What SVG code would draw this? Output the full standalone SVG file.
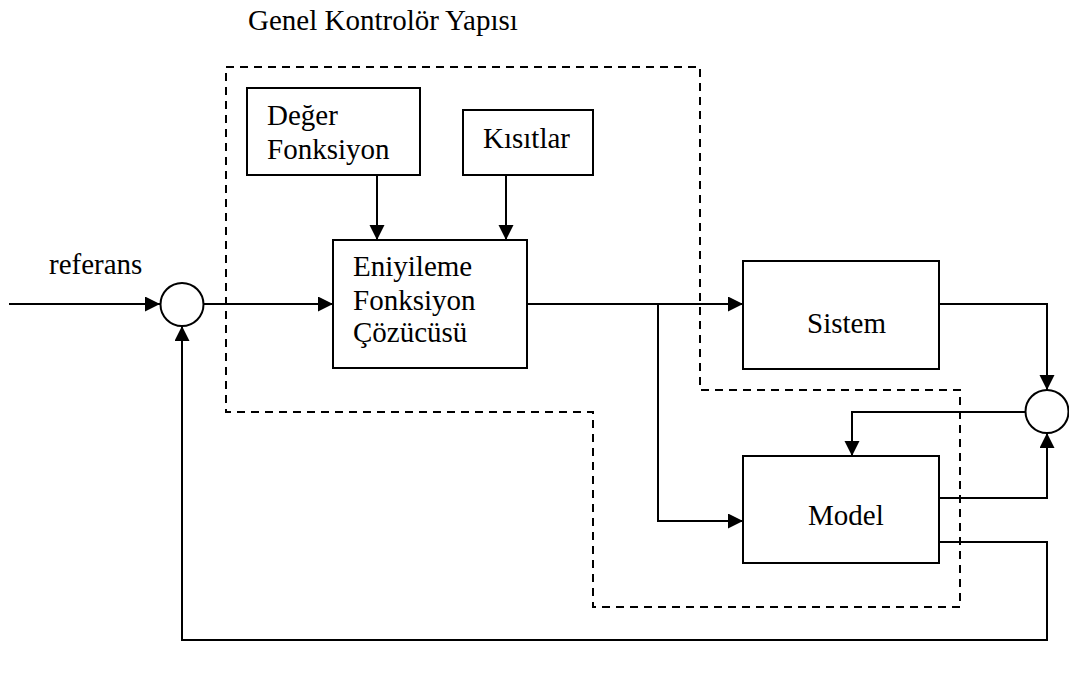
<svg xmlns="http://www.w3.org/2000/svg" width="1069" height="675" viewBox="0 0 1069 675">
  <style>
    .box { fill: #fff; stroke: #000; stroke-width: 2; }
    .sum { fill: #fff; stroke: #000; stroke-width: 2; }
    .wire { fill: none; stroke: #000; stroke-width: 2; }
    .frame { fill: none; stroke: #000; stroke-width: 2; stroke-dasharray: 8 6; }
    .lbl { font-family: "Liberation Serif", serif; font-size: 29px; fill: #000; }
  </style>
  <defs>
    <marker id="arrow" markerUnits="userSpaceOnUse" markerWidth="16" markerHeight="16" refX="15" refY="7.5" orient="auto">
      <path d="M0,0 L15,7.5 L0,15 Z" fill="#000"/>
    </marker>
  </defs>
  <rect width="1069" height="675" fill="#fff"/>

  <!-- controller boundary -->
  <g id="controller-frame">
    <polygon class="frame" points="226,67 700,67 700,390 960,390 960,607 593,607 593,412 226,412"/>
    <text class="lbl" x="248" y="30">Genel Kontrolör Yapısı</text>
  </g>

  <!-- connectors -->
  <g id="connectors">
    <line class="wire" x1="9" y1="304" x2="160" y2="304" marker-end="url(#arrow)"/>
    <line class="wire" x1="204" y1="304" x2="333" y2="304" marker-end="url(#arrow)"/>
    <line class="wire" x1="377" y1="175" x2="377" y2="240" marker-end="url(#arrow)"/>
    <line class="wire" x1="506" y1="175" x2="506" y2="240" marker-end="url(#arrow)"/>
    <line class="wire" x1="527" y1="304" x2="743" y2="304" marker-end="url(#arrow)"/>
    <polyline class="wire" points="658,304 658,521 743,521" marker-end="url(#arrow)"/>
    <polyline class="wire" points="939,304 1047,304 1047,390" marker-end="url(#arrow)"/>
    <polyline class="wire" points="1025,412 852,412 852,456" marker-end="url(#arrow)"/>
    <polyline class="wire" points="939,498 1047,498 1047,433" marker-end="url(#arrow)"/>
    <polyline class="wire" points="939,542 1047,542 1047,640 182,640 182,326" marker-end="url(#arrow)"/>
  </g>

  <g id="sum-input">
    <circle class="sum" cx="182" cy="304.5" r="21.5"/>
    <text class="lbl" x="49" y="274">referans</text>
  </g>

  <g id="deger-fonksiyon">
    <rect class="box" x="247" y="88" width="173" height="87"/>
    <text class="lbl" x="267" y="125">Değer</text>
    <text class="lbl" x="267" y="159">Fonksiyon</text>
  </g>

  <g id="kisitlar">
    <rect class="box" x="463" y="110" width="130" height="65"/>
    <text class="lbl" x="483" y="148">Kısıtlar</text>
  </g>

  <g id="eniyileme">
    <rect class="box" x="333" y="240" width="194" height="128"/>
    <text class="lbl" x="353" y="276">Eniyileme</text>
    <text class="lbl" x="353" y="310">Fonksiyon</text>
    <text class="lbl" x="353" y="342">Çözücüsü</text>
  </g>

  <g id="sistem">
    <rect class="box" x="743" y="261" width="196" height="108"/>
    <text class="lbl" x="807" y="333">Sistem</text>
  </g>

  <g id="model">
    <rect class="box" x="743" y="456" width="196" height="107"/>
    <text class="lbl" x="808" y="525">Model</text>
  </g>

  <g id="sum-output">
    <circle class="sum" cx="1047" cy="411.5" r="21.5"/>
  </g>
</svg>
